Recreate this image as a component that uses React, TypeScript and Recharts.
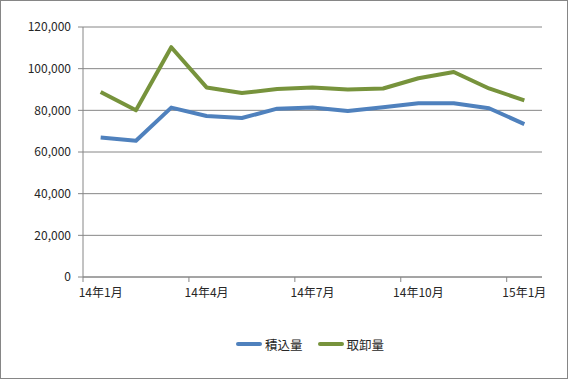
import React from 'react';
import { LineChart, Line, XAxis, YAxis, CartesianGrid, Legend } from 'recharts';

const months = ['14年1月', '14年2月', '14年3月', '14年4月', '14年5月', '14年6月', '14年7月', '14年8月', '14年9月', '14年10月', '14年11月', '14年12月', '15年1月'];
const loading = [67000, 65400, 81300, 77300, 76300, 80800, 81400, 79700, 81500, 83400, 83400, 81000, 73400];
const unloading = [88800, 80000, 110300, 91000, 88300, 90200, 91000, 90000, 90500, 95400, 98400, 90500, 84800];
const yTicks = [0, 20000, 40000, 60000, 80000, 100000, 120000];
const seriesNames = ['積込量', '取卸量'];

const data = months.map((m, i) => ({ month: m, loading: loading[i], unloading: unloading[i] }));

const W = 568;
const H = 379;
const Y_AXIS_W = 83;
const RIGHT = 26;
const BAND = (W - Y_AXIS_W - RIGHT) / months.length;
const FONT = '"Noto Sans CJK JP", "Noto Sans", sans-serif';
const GRID = '#868686';
const TEXT = '#262626';
const BLUE = '#4F81BD';
const GREEN = '#77933C';

const XTick = (props: any) => {
  const { x, y, payload } = props;
  const axisY = y - 7;
  const bx = x - BAND / 2;
  return (
    <g>
      <line x1={bx} x2={bx} y1={axisY} y2={axisY + 5} stroke={GRID} strokeWidth={1} />
      <text x={x} y={y + 13} textAnchor="middle" fill={TEXT} fontSize={12} fontFamily={FONT}>
        {payload.value}
      </text>
    </g>
  );
};

const LegendContent = () => {
  const items = [
    { name: seriesNames[0], color: BLUE },
    { name: seriesNames[1], color: GREEN },
  ];
  return (
    <div style={{ height: 20, display: 'flex', justifyContent: 'flex-start', alignItems: 'center', paddingLeft: 236, fontFamily: FONT, fontSize: 12.5, color: TEXT }}>
      {items.map((it, i) => (
        <div key={it.name} style={{ display: 'flex', alignItems: 'center', marginLeft: i === 0 ? 0 : 15 }}>
          <div style={{ width: 26, height: 4, background: it.color, borderRadius: 2, marginRight: 3 }} />
          <span>{it.name}</span>
        </div>
      ))}
    </div>
  );
};

export default function App() {
  return (
    <div style={{ position: 'absolute', left: 0, top: 0, width: W, height: H, background: '#fff' }}>
      <LineChart width={W} height={H} data={data} margin={{ top: 27, right: RIGHT, left: 0, bottom: 25 }}>
        <CartesianGrid vertical={false} stroke={GRID} strokeWidth={1} />
        <XAxis
          dataKey="month"
          interval={2}
          height={57}
          tickSize={5}
          tickMargin={2}
          tickLine={false}
          padding={{ left: BAND / 2, right: BAND / 2 }}
          axisLine={{ stroke: GRID }}
          tick={<XTick />}
        />
        <YAxis
          width={Y_AXIS_W}
          domain={[0, 120000]}
          ticks={yTicks}
          tickSize={5}
          tickMargin={7}
          axisLine={{ stroke: GRID }}
          tickLine={{ stroke: GRID }}
          tick={{ fill: TEXT, fontSize: 12, fontFamily: FONT }}
          tickFormatter={(v: number) => v.toLocaleString('en-US')}
        />
        <Legend verticalAlign="bottom" content={<LegendContent />} />
        <Line type="linear" dataKey="loading" name={seriesNames[0]} stroke={BLUE} strokeWidth={4} dot={false} isAnimationActive={false} strokeLinejoin="round" />
        <Line type="linear" dataKey="unloading" name={seriesNames[1]} stroke={GREEN} strokeWidth={4} dot={false} isAnimationActive={false} strokeLinejoin="round" />
      </LineChart>
      <div style={{ position: 'absolute', left: 0, top: 0, width: W, height: H, boxSizing: 'border-box', border: '1px solid #868686', pointerEvents: 'none' }} />
    </div>
  );
}
